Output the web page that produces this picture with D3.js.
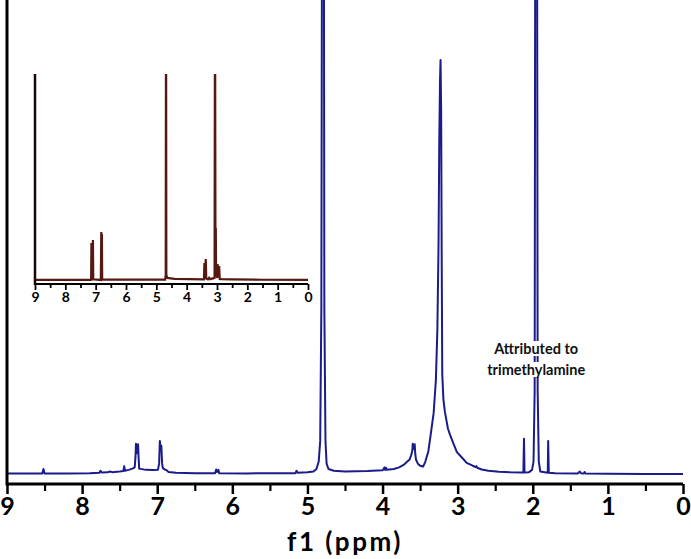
<!DOCTYPE html>
<html><head><meta charset="utf-8">
<script src="https://cdn.jsdelivr.net/npm/d3@7"></script>
<style>body{margin:0;background:#fff}svg{display:block}</style>
</head><body><svg id="c" width="691" height="559"></svg>
<script>
// ---- data ----
const mainTickLabels = [9, 8, 7, 6, 5, 4, 3, 2, 1, 0];
const minorTicks = [8.5, 7.5, 6.5, 5.5, 4.5, 3.5, 2.5, 1.5, 0.5];
const xLabel = "f1 (ppm)";
const annotationLines = ["Attributed to", "trimethylamine"];
const annotationPpm = 1.955;

// main spectrum: [ppm, intensity] (3.23 ppm peak = 100)
const mainPpm = [9.00, 8.53, 8.515, 8.50, 8.2, 7.90, 7.77, 7.755, 7.74, 7.66, 7.63, 7.60, 7.50, 7.45, 7.44, 7.43, 7.38, 7.33, 7.30,
  7.29, 7.283, 7.276, 7.262, 7.255, 7.248, 7.24, 7.15, 7.05, 6.99, 6.975, 6.965, 6.955, 6.945, 6.935, 6.925, 6.90, 6.885, 6.875, 6.85,
  6.75, 6.5, 6.23, 6.215, 6.205, 6.185, 6.175, 5.8, 5.5, 5.16, 5.145, 5.13, 5.0, 4.92, 4.88, 4.85, 4.83, 4.815, 4.80, 4.785, 4.775,
  4.76, 4.745, 4.72, 4.65, 4.50, 4.20, 4.00, 3.985, 3.975, 3.965, 3.955, 3.94, 3.85, 3.78, 3.72, 3.67, 3.64, 3.62, 3.605, 3.598,
  3.592, 3.585, 3.578, 3.572, 3.565, 3.555, 3.53, 3.50, 3.46, 3.43, 3.39, 3.36, 3.32, 3.29, 3.27, 3.255, 3.245, 3.235, 3.228, 3.22,
  3.212, 3.205, 3.19, 3.17, 3.15, 3.13, 3.10, 3.06, 3.01, 2.95, 2.88, 2.80, 2.76, 2.75, 2.74, 2.68, 2.59, 2.45, 2.30, 2.15, 2.125, 2.117,
  2.11, 2.05, 2.01, 1.99, 1.975, 1.963, 1.947, 1.935, 1.92, 1.90, 1.80, 1.795, 1.787, 1.70, 1.40, 1.375, 1.36, 1.32, 1.31, 1.30,
  1.0, 0.5, 0];
const mainInt = [0.1, 0.1, 1.2, 0.1, 0.15, 0.2, 0.3, 0.8, 0.35, 0.4, 0.6, 0.45, 0.6, 0.7, 1.9, 0.8, 1.0, 1.3, 1.6,
  4, 7.3, 5, 5.5, 7.2, 4, 1.3, 1.0, 0.95, 1.0, 2.5, 8.0, 6, 6.8, 2.5, 1.4, 1.1, 1.0, 0.9, 0.5,
  0.3, 0.2, 0.2, 1.1, 0.5, 1.0, 0.2, 0.15, 0.2, 0.2, 0.8, 0.3, 0.4, 0.6, 1.2, 3, 8, 40, 200, 200, 40,
  8, 2.5, 1.2, 0.8, 0.6, 0.7, 0.9, 1.2, 1.6, 1.0, 1.5, 1.0, 1.2, 1.6, 2.2, 3.0, 3.5, 4.5, 5.5, 7.3,
  6, 7.0, 6.5, 7.2, 5.0, 3.5, 2.5, 2.0, 1.8, 3.0, 5.5, 9.4, 14.7, 22.7, 35, 55, 80, 95, 100, 88,
  50, 24, 18, 15, 13, 11, 9.4, 7.5, 5.3, 4.1, 2.7, 2.0, 1.7, 1.9, 1.5, 1.1, 0.8, 0.55, 0.4, 0.35, 0.35, 8.5,
  0.35, 0.45, 1.0, 3, 20, 200, 200, 20, 3, 0.6, 0.3, 8.0, 0.3, 0.2, 0.15, 0.6, 0.2, 0.15, 0.5, 0.15,
  0.05, 0.0, 0.0];

// inset spectrum (pure compound): [ppm, intensity] (full inset height = 100)
const insetPpm = [9.0, 7.16, 7.15, 7.14, 7.13, 7.10, 7.09, 7.08, 6.83, 6.815, 6.805, 6.795, 6.785, 4.71, 4.69, 4.68, 4.67, 4.64,
  4.4, 3.43, 3.415, 3.40, 3.37, 3.355, 3.3, 3.26, 3.22, 3.08, 3.065, 3.05, 3.04, 3.03, 2.99, 2.98, 2.96, 2.93, 2.91, 2.85, 2.5, 1.5, 0];
const insetInt = [0.5, 0.5, 0.8, 18.4, 0.8, 0.8, 19.8, 0.8, 0.5, 23.7, 3, 22.7, 0.8, 0.7, 3, 150, 3, 1.5,
  1.0, 0.8, 8.7, 1.2, 10.6, 1.2, 0.8, 1.6, 0.9, 1.5, 150, 5, 25.6, 3, 1.5, 8.2, 2, 7.2, 1.0, 0.9, 0.8, 0.6, 0.5];

// ---- drawing ----
const svg = d3.select("#c");
const font = "Lato, 'Open Sans', sans-serif";

// main chart
const x = d3.scaleLinear().domain([9, 0]).range([7, 683]);
const y = d3.scaleLinear().domain([0, 114.5]).range([474, 0]);
const axisY = 484;

svg.append("clipPath").attr("id", "mclip").append("rect")
  .attr("x", 7).attr("y", 0).attr("width", 676).attr("height", 484);

const mainData = mainPpm.map((p, i) => [p, mainInt[i]]);
svg.append("path").datum(mainData)
  .attr("clip-path", "url(#mclip)")
  .attr("fill", "none").attr("stroke", "#1b1b8c").attr("stroke-width", 2)
  .attr("stroke-linejoin", "round")
  .attr("d", d3.line().x(d => x(d[0])).y(d => y(d[1])));

// minor ticks
svg.append("g").attr("transform", `translate(0,${axisY})`)
  .call(d3.axisBottom(x).tickValues(minorTicks).tickSize(7).tickFormat(""))
  .call(g => g.select(".domain").remove())
  .call(g => g.selectAll("line").attr("stroke", "#000").attr("stroke-width", 2.2));
// major ticks
const ax = svg.append("g").attr("transform", `translate(0,${axisY})`)
  .call(d3.axisBottom(x).tickValues(mainTickLabels).tickSize(10).tickPadding(3).tickFormat(d3.format("d")));
ax.select(".domain").attr("stroke", "#000").attr("stroke-width", 3).attr("d", `M${x(9)},0H${x(0)}`);
ax.selectAll("line").attr("stroke", "#000").attr("stroke-width", 2.5);
ax.selectAll("text").attr("fill", "#000").attr("font-family", font).attr("font-weight", "bold").attr("font-size", 25);

// left axis line
svg.append("line").attr("x1", 7).attr("x2", 7).attr("y1", 0).attr("y2", axisY + 1.5)
  .attr("stroke", "#000").attr("stroke-width", 3);

svg.append("text").attr("x", 345).attr("y", 551).attr("text-anchor", "middle")
  .attr("font-family", font).attr("font-weight", "bold").attr("font-size", 26)
  .attr("letter-spacing", 2.5).text(xLabel);

// annotation with white backing
const ann = svg.append("g");
annotationLines.forEach((t, i) => {
  const tx = ann.append("text").attr("x", x(annotationPpm)).attr("y", 354 + i * 21)
    .attr("text-anchor", "middle").attr("font-family", font).attr("font-weight", "bold")
    .attr("font-size", 14.5).attr("fill", "#111").text(t);
  const bb = tx.node().getBBox();
  ann.insert("rect", "text").attr("x", bb.x - 1).attr("y", bb.y + 1).attr("width", bb.width + 2)
    .attr("height", bb.height - 2).attr("fill", "#fff");
});

// inset
const ix = d3.scaleLinear().domain([9, 0]).range([35, 308]);
const iy = d3.scaleLinear().domain([0, 100]).range([281, 74]);
const iAxisY = 284;
svg.append("clipPath").attr("id", "iclip").append("rect")
  .attr("x", 35).attr("y", 74).attr("width", 273).attr("height", 212);
const insetData = insetPpm.map((p, i) => [p, insetInt[i]]);
svg.append("path").datum(insetData)
  .attr("clip-path", "url(#iclip)")
  .attr("fill", "none").attr("stroke", "#561912").attr("stroke-width", 2.2)
  .attr("d", d3.line().x(d => ix(d[0])).y(d => iy(d[1])));

svg.append("g").attr("transform", `translate(0,${iAxisY})`)
  .call(d3.axisBottom(ix).tickValues(minorTicks).tickSize(4).tickFormat(""))
  .call(g => g.select(".domain").remove())
  .call(g => g.selectAll("line").attr("stroke", "#000").attr("stroke-width", 1.8));
const iax = svg.append("g").attr("transform", `translate(0,${iAxisY})`)
  .call(d3.axisBottom(ix).tickValues(mainTickLabels).tickSize(6).tickPadding(2).tickFormat(d3.format("d")));
iax.select(".domain").attr("stroke", "#000").attr("stroke-width", 2).attr("d", `M${ix(9)},0H${ix(0)}`);
iax.selectAll("line").attr("stroke", "#000").attr("stroke-width", 1.8);
iax.selectAll("text").attr("fill", "#000").attr("font-family", font).attr("font-weight", "bold").attr("font-size", 14);

svg.append("line").attr("x1", 35).attr("x2", 35).attr("y1", 74).attr("y2", iAxisY + 1)
  .attr("stroke", "#1a0606").attr("stroke-width", 2.5);
</script></body></html>
